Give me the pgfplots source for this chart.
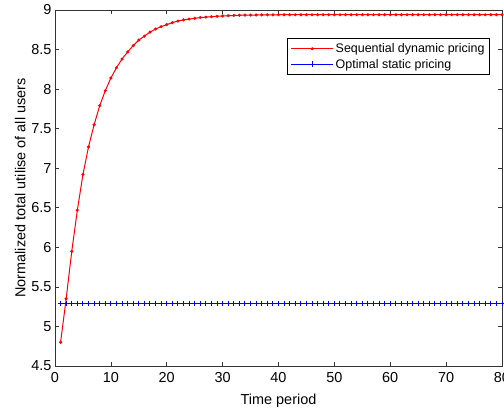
\documentclass[border=0pt]{standalone}
\usepackage{fontspec}
\setmainfont{Liberation Sans}
\usepackage{pgfplots}
\pgfplotsset{compat=1.18}

\pgfplotstableread{
t y
1 4.80
2 5.35
3 5.95
4 6.47
5 6.92
6 7.27
7 7.55
8 7.79
9 7.98
10 8.14
11 8.27
12 8.38
13 8.47
14 8.55
15 8.62
16 8.67
17 8.72
18 8.76
19 8.79
20 8.815
21 8.84
22 8.86
23 8.875
24 8.885
25 8.895
26 8.905
27 8.91
28 8.915
29 8.92
30 8.925
31 8.928
32 8.931
33 8.933
34 8.935
35 8.936
36 8.937
37 8.938
38 8.939
39 8.939
40 8.94
41 8.94
42 8.94
43 8.94
44 8.94
45 8.94
46 8.94
47 8.94
48 8.94
49 8.94
50 8.94
51 8.94
52 8.94
53 8.94
54 8.94
55 8.94
56 8.94
57 8.94
58 8.94
59 8.94
60 8.94
61 8.94
62 8.94
63 8.94
64 8.94
65 8.94
66 8.94
67 8.94
68 8.94
69 8.94
70 8.94
71 8.94
72 8.94
73 8.94
74 8.94
75 8.94
76 8.94
77 8.94
78 8.94
79 8.94
80 8.94
}\dynamicdata

\pgfplotstableread{
t y
1 5.29
2 5.29
3 5.29
4 5.29
5 5.29
6 5.29
7 5.29
8 5.29
9 5.29
10 5.29
11 5.29
12 5.29
13 5.29
14 5.29
15 5.29
16 5.29
17 5.29
18 5.29
19 5.29
20 5.29
21 5.29
22 5.29
23 5.29
24 5.29
25 5.29
26 5.29
27 5.29
28 5.29
29 5.29
30 5.29
31 5.29
32 5.29
33 5.29
34 5.29
35 5.29
36 5.29
37 5.29
38 5.29
39 5.29
40 5.29
41 5.29
42 5.29
43 5.29
44 5.29
45 5.29
46 5.29
47 5.29
48 5.29
49 5.29
50 5.29
51 5.29
52 5.29
53 5.29
54 5.29
55 5.29
56 5.29
57 5.29
58 5.29
59 5.29
60 5.29
61 5.29
62 5.29
63 5.29
64 5.29
65 5.29
66 5.29
67 5.29
68 5.29
69 5.29
70 5.29
71 5.29
72 5.29
73 5.29
74 5.29
75 5.29
76 5.29
77 5.29
78 5.29
79 5.29
80 5.29
}\staticdata

\begin{document}
\begin{tikzpicture}
\useasboundingbox (0,0) rectangle (504bp,410bp);
\begin{axis}[
at={(55bp,44bp)}, anchor=south west,
scale only axis,
width=447bp, height=356bp,
xmin=0, xmax=80,
ymin=4.5, ymax=9,
xtick={0,10,...,80},
ytick={4.5,5,...,9},
tick align=inside,
major tick length=4bp,
axis line style={black!80, line width=0.8pt},
tick style={black!80, line width=0.7pt},
/pgf/number format/assume math mode=true,
ticklabel style={font=\fontsize{14.5}{16}\selectfont},
xticklabel style={yshift=-3bp},
xlabel={Time period},
ylabel={Normalized total utilise of all users},
label style={font=\fontsize{14.5}{16}\selectfont},
xlabel style={yshift=-4bp},
ylabel style={yshift=-1bp},
legend style={at={(0.973,0.921)}, anchor=north east, draw=black, line width=0.8pt,
  font=\fontsize{12.5}{14}\selectfont, inner sep=3bp, row sep=1bp},
legend cell align=left,
legend image code/.code={\draw[mark repeat=2,mark phase=2] plot coordinates {(0bp,0bp) (21bp,0bp) (42bp,0bp)};},
]
\addplot[color=red, line width=1pt, mark=*, mark size=1pt] table[x=t,y=y] {\dynamicdata};
\addlegendentry{Sequential dynamic pricing}
\addplot[color=blue, line width=0.9pt, mark=+, mark size=3pt, mark options={line width=1pt}] table[x=t,y=y] {\staticdata};
\addlegendentry{Optimal static pricing}
\end{axis}
\end{tikzpicture}
\end{document}
